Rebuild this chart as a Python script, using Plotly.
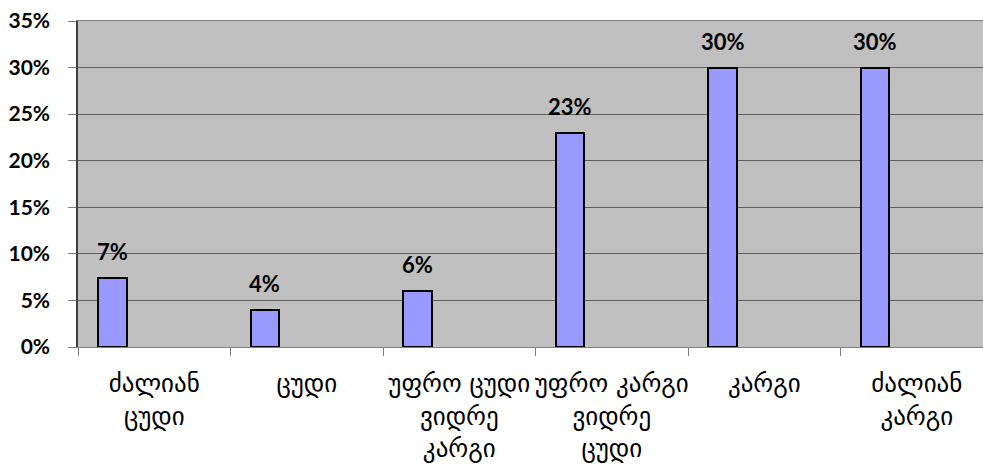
import plotly.graph_objects as go

categories = ["ძალიან<br>ცუდი", "ცუდი", "უფრო ცუდი<br>ვიდრე<br>კარგი",
              "უფრო კარგი<br>ვიდრე<br>ცუდი", "კარგი", "ძალიან<br>კარგი"]
cat_keys = ["c1", "c2", "c3", "c4", "c5", "c6"]
values = [0.074, 0.04, 0.06, 0.23, 0.30, 0.30]
labels = ["7%", "4%", "6%", "23%", "30%", "30%"]
y_ticks = [0, 0.05, 0.10, 0.15, 0.20, 0.25, 0.30, 0.35]

BAR_OFFSET = -0.367
BAR_WIDTH = 0.186
PX_PER_CAT = 152.5

fig = go.Figure()
fig.add_trace(go.Bar(
    x=cat_keys, y=values,
    offset=BAR_OFFSET, width=BAR_WIDTH,
    marker=dict(color="#9999ff", line=dict(color="black", width=2)),
    hoverinfo="skip",
))

for k, v, t in zip(cat_keys, values, labels):
    fig.add_annotation(
        x=k, y=v, xref="x", yref="y", text=f"<b>{t}</b>", showarrow=False,
        yanchor="bottom", xanchor="center",
        xshift=(BAR_OFFSET + BAR_WIDTH / 2) * PX_PER_CAT, yshift=11,
        font=dict(family="Lato", size=22, color="black"),
    )

fig.update_layout(
    width=983, height=466,
    margin=dict(l=78, r=0, t=21, b=119),
    paper_bgcolor="white", plot_bgcolor="#c0c0c0",
    showlegend=False, bargap=0,
)
fig.update_xaxes(
    type="category", range=[-0.5, 5.434], automargin=False,
    tickmode="array", tickvals=cat_keys, ticktext=categories, tickangle=0,
    tickson="boundaries", ticks="outside", ticklen=8, tickcolor="#808080",
    ticklabelstandoff=14,
    showline=True, linecolor="#808080", linewidth=1, mirror=True,
    showgrid=False,
    tickfont=dict(family="DejaVu Sans", size=25, color="black"),
)
fig.update_yaxes(
    range=[0, 0.35], tickmode="array", tickvals=y_ticks, tickformat=".0%",
    automargin=False,
    ticks="outside", ticklen=8, tickcolor="#808080", ticklabelstandoff=14,
    showline=True, linecolor="#404040", linewidth=1.5,
    showgrid=True, gridcolor="#606060", gridwidth=1, zeroline=False,
    tickfont=dict(family="Lato", size=21, color="black", weight="bold"),
)

fig.write_html("out.html", config={"displayModeBar": False},
               post_script="document.body.style.margin='0';")
